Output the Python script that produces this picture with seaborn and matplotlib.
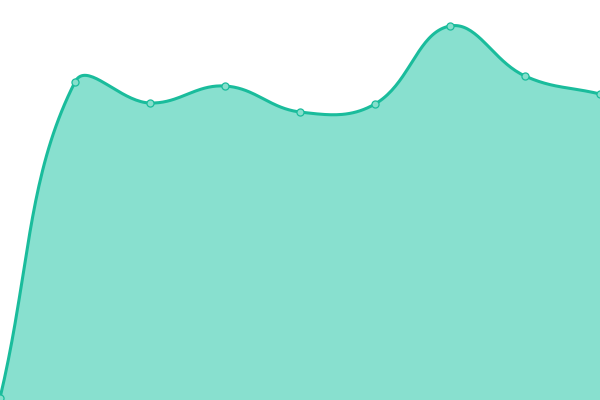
import numpy as np
import pandas as pd
import matplotlib
matplotlib.use("Agg")
import matplotlib.pyplot as plt
import seaborn as sns

# ---- data ----
categories = ["P1", "P2", "P3", "P4", "P5", "P6", "P7", "P8", "P9"]
values = [2, 318, 297, 314, 288, 296, 374, 324, 306]

LINE = "#1ABC9C"
FILL = "#88E0CF"
MARK = "#86DFCC"

sns.set_style("white")
fig = plt.figure(figsize=(6, 4), dpi=100)
ax = fig.add_axes([0, 0, 1, 1])
ax.set_xlim(0, len(categories) - 1)
ax.set_ylim(0, 400)
ax.axis("off")

df = pd.DataFrame({"idx": np.arange(len(categories)), "cat": categories, "value": values})

# smooth the line like a tension-0.4 spline, computed in display space
fig.canvas.draw()
pts = ax.transData.transform(np.column_stack([df["idx"], df["value"]]).astype(float))
tension = 0.4
n = len(pts)
cprev = np.zeros_like(pts)
cnext = np.zeros_like(pts)
for i in range(n):
    prev = pts[i - 1] if i > 0 else pts[i]
    cur = pts[i]
    nxt = pts[i + 1] if i < n - 1 else pts[i]
    d01 = np.hypot(*(cur - prev))
    d12 = np.hypot(*(nxt - cur))
    s = d01 + d12
    fa = d01 / s if s else 0
    fb = d12 / s if s else 0
    cprev[i] = cur - fa * tension * (nxt - prev)
    cnext[i] = cur + fb * tension * (nxt - prev)

curve = [pts[0]]
t = np.linspace(0, 1, 40)[1:, None]
for i in range(n - 1):
    p0, p1, p2, p3 = pts[i], cnext[i], cprev[i + 1], pts[i + 1]
    seg = (1 - t) ** 3 * p0 + 3 * (1 - t) ** 2 * t * p1 + 3 * (1 - t) * t ** 2 * p2 + t ** 3 * p3
    curve.extend(seg)
curve = ax.transData.inverted().transform(np.array(curve))

ax.fill_between(curve[:, 0], 0, curve[:, 1], color=FILL, linewidth=0, zorder=1)
ax.plot(curve[:, 0], curve[:, 1], color=LINE, linewidth=2.2, zorder=2, solid_capstyle="round")
sns.scatterplot(data=df, x="idx", y="value", ax=ax, s=26, color=MARK,
                edgecolor=LINE, linewidth=0.9, zorder=3, clip_on=False, legend=False)
ax.set_xlim(0, len(categories) - 1)
ax.set_ylim(0, 400)
ax.axis("off")

fig.savefig("out.png", dpi=100)
